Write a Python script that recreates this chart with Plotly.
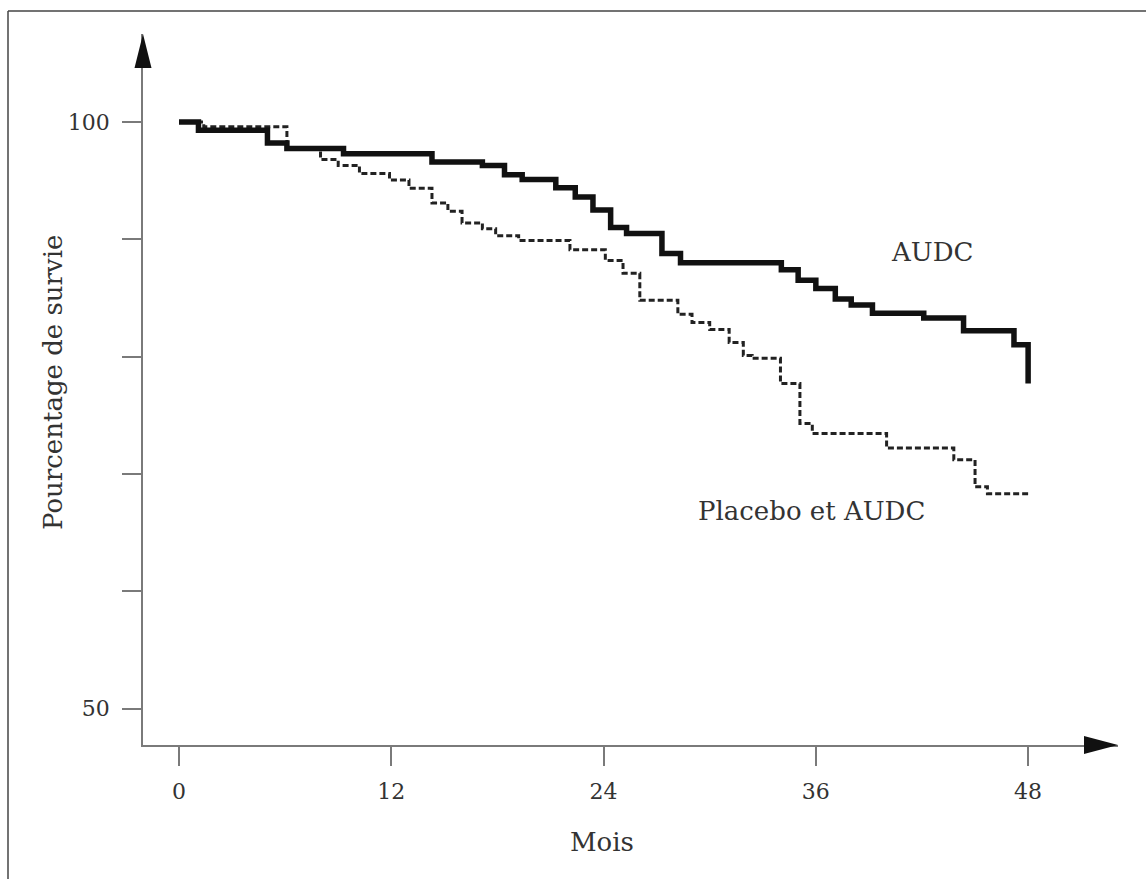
import plotly.graph_objects as go

# ---------------- data ----------------
audc_months = [0, 1.1, 5.0, 6.1, 9.3, 14.3, 17.15, 18.4, 19.4, 21.3, 22.4, 23.4, 24.4,
               25.3, 27.3, 28.35, 34.05, 35.0, 36.0, 37.1, 38.0, 39.2, 42.1, 44.35,
               47.2, 48.0]
audc_surv = [100, 99.3, 98.2, 97.75, 97.3, 96.6, 96.3, 95.5, 95.1, 94.4, 93.6, 92.5, 91.0,
             90.5, 88.8, 88.0, 87.4, 86.5, 85.8, 84.9, 84.4, 83.7, 83.3, 82.2,
             81.0, 77.7]

placebo_months = [0, 1.4, 6.1, 8.0, 9.0, 10.2, 11.9, 13.0, 14.3, 15.2, 16.0, 17.15, 17.9,
                  19.2, 22.1, 24.1, 25.1, 26.05, 28.2, 29.0, 30.0, 31.1, 31.9, 32.4,
                  34.0, 35.1, 35.8, 40.0, 43.8, 45.0, 45.7, 48.0]
placebo_surv = [100, 99.6, 97.8, 96.8, 96.3, 95.6, 95.05, 94.35, 93.1, 92.4, 91.4, 90.9, 90.3,
                89.9, 89.1, 88.2, 87.1, 84.8, 83.6, 82.9, 82.3, 81.2, 80.1, 79.85,
                77.7, 74.3, 73.45, 72.2, 71.2, 68.9, 68.3, 68.3]

x_tickvals = [0, 12, 24, 36, 48]
x_ticktext = ["0", "12", "24", "36", "48"]
y_tickvals = [50, 60, 70, 80, 90, 100]
y_ticktext = ["50", "", "", "", "", "100"]

label_audc = "AUDC"
label_placebo = "Placebo et AUDC"
x_title = "Mois"
y_title = "Pourcentage de survie"

# ---------------- layout geometry (pixels) ----------------
W, H = 1146, 879
L, R, T, B = 143, 1118, 34, 745          # plot area edges
x0_px, x_scale = 179.0, 17.69            # px of month 0, px per month
y100_px, y_scale = 122.0, 11.73          # px of 100 %, px per %

x_range = [(L - x0_px) / x_scale, (R - x0_px) / x_scale]
y_range = [100 - (B - y100_px) / y_scale, 100 + (y100_px - T) / y_scale]


def px(xp):
    return (xp - L) / (R - L)


def py(yp):
    return (B - yp) / (B - T)


FONT = "DejaVu Serif"
TXT = "#333333"
AX = "#7a7a7a"
FS = 26

fig = go.Figure()
fig.add_trace(go.Scatter(x=placebo_months, y=placebo_surv, mode="lines",
                         line=dict(shape="hv", color="#222222", width=3, dash="6px,3px"),
                         name=label_placebo, showlegend=False, hoverinfo="skip"))
fig.add_trace(go.Scatter(x=audc_months, y=audc_surv, mode="lines",
                         line=dict(shape="hv", color="#111111", width=5.5),
                         name=label_audc, showlegend=False, hoverinfo="skip"))

shapes = [
    # outer frame (top and left edges visible)
    dict(type="line", xref="paper", yref="paper", x0=px(8), y0=py(11), x1=px(W + 5), y1=py(11),
         line=dict(color="#444444", width=1.5)),
    dict(type="line", xref="paper", yref="paper", x0=px(8), y0=py(11), x1=px(8), y1=py(H + 5),
         line=dict(color="#444444", width=1.5)),
    # arrow heads
    dict(type="path", xref="paper", yref="paper",
         path=f"M {px(L)} {py(T)} L {px(L - 8.5)} {py(T + 34)} L {px(L + 8.5)} {py(T + 34)} Z",
         fillcolor="#111111", line=dict(width=0)),
    dict(type="path", xref="paper", yref="paper",
         path=f"M {px(R)} {py(B)} L {px(R - 34)} {py(B - 9)} L {px(R - 34)} {py(B + 9)} Z",
         fillcolor="#111111", line=dict(width=0)),
]

annotations = [
    dict(x=42.55, y=88.9, xref="x", yref="y", text=label_audc, showarrow=False,
         font=dict(family=FONT, size=FS, color=TXT), xanchor="center", yanchor="middle"),
    dict(x=35.75, y=66.8, xref="x", yref="y", text=label_placebo, showarrow=False,
         font=dict(family=FONT, size=FS, color=TXT), xanchor="center", yanchor="middle"),
    dict(x=px(602), y=py(842), xref="paper", yref="paper", text=x_title, showarrow=False,
         font=dict(family=FONT, size=FS, color=TXT), xanchor="center", yanchor="middle"),
    dict(x=px(53), y=py(383), xref="paper", yref="paper", text=y_title, showarrow=False,
         textangle=-90, font=dict(family=FONT, size=FS, color=TXT),
         xanchor="center", yanchor="middle"),
]

fig.update_layout(
    width=W, height=H,
    margin=dict(l=L, r=W - R, t=T, b=H - B, pad=0),
    paper_bgcolor="white", plot_bgcolor="white",
    showlegend=False,
    shapes=shapes, annotations=annotations,
    xaxis=dict(range=x_range, showgrid=False, zeroline=False, showline=True,
               linecolor=AX, linewidth=1.5, ticks="outside", ticklen=19, tickwidth=1.5,
               tickcolor=AX, tickvals=x_tickvals, ticktext=x_ticktext,
               tickfont=dict(family=FONT, size=22, color=TXT), ticklabelstandoff=7),
    yaxis=dict(range=y_range, showgrid=False, zeroline=False, showline=True,
               linecolor=AX, linewidth=1.5, ticks="outside", ticklen=19, tickwidth=1.5,
               tickcolor=AX, tickvals=y_tickvals, ticktext=y_ticktext,
               tickfont=dict(family=FONT, size=22, color=TXT), ticklabelstandoff=8),
)

fig.write_html("out.html")
